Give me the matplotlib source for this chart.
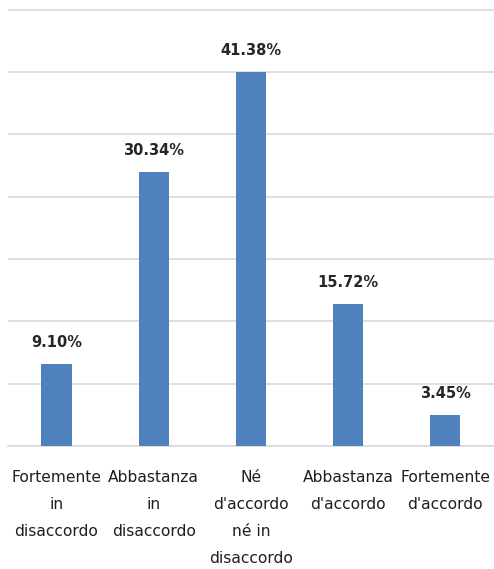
import numpy as np
import matplotlib
matplotlib.use("Agg")
import matplotlib.pyplot as plt

plt.rcParams["font.family"] = ["Liberation Sans Narrow", "DejaVu Sans"]

categories = [
    "Fortemente\nin\ndisaccordo",
    "Abbastanza\nin\ndisaccordo",
    "Né\nd'accordo\nné in\ndisaccordo",
    "Abbastanza\nd'accordo",
    "Fortemente\nd'accordo",
]
percentages = [9.10, 30.34, 41.38, 15.72, 3.45]

# y axis runs 0..70 respondents out of 145, gridline every 10
y_max = 70 / 145 * 100
grid_ticks = np.linspace(0, y_max, 8)

fig = plt.figure(figsize=(4.94, 5.69), dpi=100)
ax = fig.add_axes([0.016, 0.216, 0.984, 0.770])

x = np.arange(len(categories))
bars = ax.bar(x, percentages, width=0.31, color="#4f81bd", zorder=3)

for rect, v in zip(bars, percentages):
    ax.text(rect.get_x() + rect.get_width() / 2, v + 1.5, f"{v:.2f}%",
            ha="center", va="bottom", fontsize=10.5, fontweight="bold",
            color="#262626")

ax.set_xlim(-0.5, len(categories) - 0.5)
ax.set_ylim(0, y_max * 1.004)
ax.set_yticks(grid_ticks)
ax.yaxis.grid(True, color="#d9d9d9", linewidth=1.2, zorder=0)
ax.tick_params(axis="y", left=False, labelleft=False)
ax.tick_params(axis="x", length=0, pad=17)
ax.set_xticks(x)
ax.set_xticklabels(categories, fontsize=11.2, color="#1f1f1f", linespacing=2.0)
for s in ["top", "right", "left"]:
    ax.spines[s].set_visible(False)
ax.spines["bottom"].set_color("#d9d9d9")
ax.spines["bottom"].set_linewidth(1.2)

fig.savefig("out.png", dpi=100)
